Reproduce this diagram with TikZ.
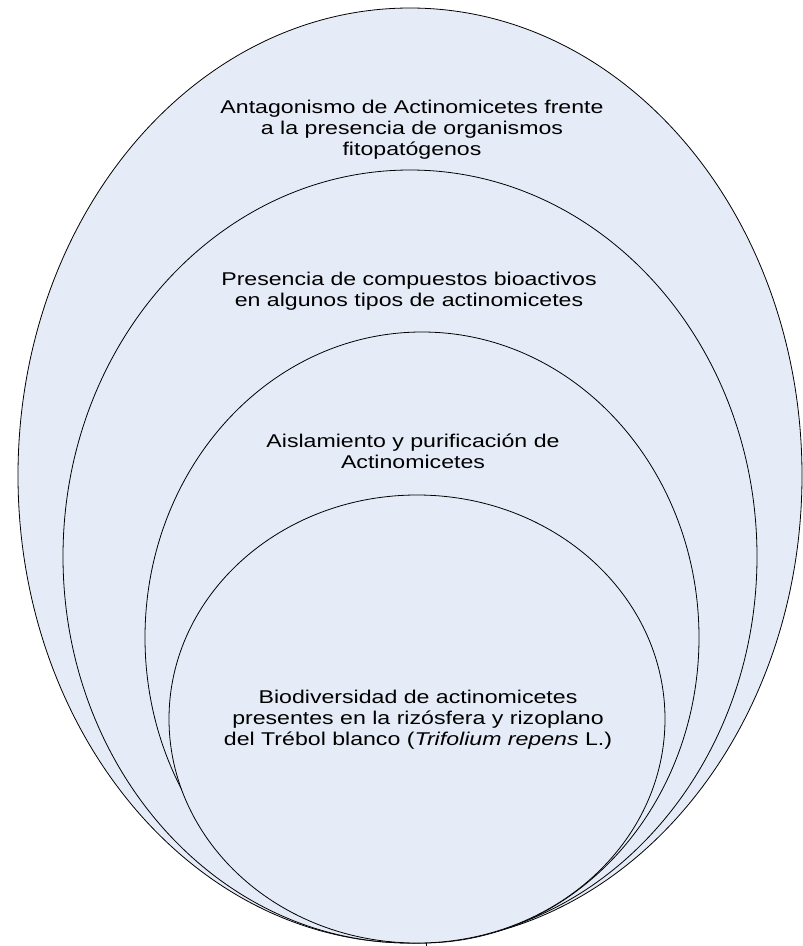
\documentclass[tikz,border=0pt]{standalone}
\usepackage{fontspec}
\setmainfont[FakeStretch=1.25]{Liberation Sans}
\usepackage{tikz}
\definecolor{ovalFill}{RGB}{230, 236, 247}

\tikzset{
  oval/.style={draw=black, line width=0.8pt, fill=ovalFill},
  ovaltext/.style={align=center, anchor=base, inner sep=0pt,
    font=\fontsize{18.5}{21}\selectfont}
}

\begin{document}
\begin{tikzpicture}[x=1pt, y=-1pt]
      \useasboundingbox (0,0) rectangle (803,946);

      % outer to inner, all meeting at the bottom
      \draw[oval] (410,475.5) ellipse [x radius=392, y radius=467.5];
      \draw[oval] (410,556.5) ellipse [x radius=347, y radius=386.5];
      \draw[oval] (422,637.5) ellipse [x radius=277, y radius=305.5];
      \draw[oval] (417,719) ellipse [x radius=248, y radius=224];
      \draw (426,943) -- (426,946);

      % base = last line
      \node[ovaltext] (antagonismo) at (412,155) {Antagonismo de Actinomicetes frente\\a la presencia de organismos\\fitopatógenos};
      \node[ovaltext] (presencia) at (409,306.7) {Presencia de compuestos bioactivos\\en algunos tipos de actinomicetes};
      \node[ovaltext] (aislamiento) at (413,468) {Aislamiento y purificación de\\Actinomicetes};
      \node[ovaltext] (biodiversidad) at (418,745) {Biodiversidad de actinomicetes\\presentes en la rizósfera y rizoplano\\del Trébol blanco (\textit{Trifolium repens} L.)};
    \end{tikzpicture}
\end{document}
